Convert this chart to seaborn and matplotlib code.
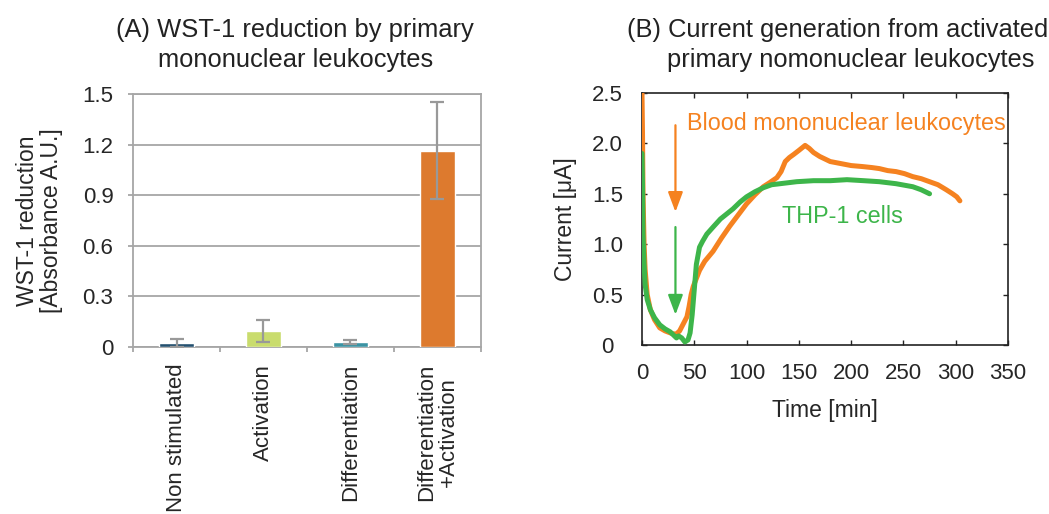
import matplotlib
matplotlib.use("Agg")
import matplotlib.pyplot as plt
import seaborn as sns
import numpy as np
import pandas as pd

sns.set_style("white")
plt.rcParams["font.family"] = ["Liberation Sans", "DejaVu Sans"]

# ---- Panel A data: WST-1 reduction ----
categories = ["Non stimulated", "Activation", "Differentiation", "Differentiation\n+Activation"]
wst_values = [0.024, 0.094, 0.030, 1.163]
wst_errors = [0.022, 0.066, 0.012, 0.287]
bar_colors = ["#24506f", "#c9dc6d", "#3b93a3", "#dd7a2e"]

# ---- Panel B data: current vs time ----
blood_time = [0, 0.5, 1, 2, 3, 5, 8, 12, 17, 22, 27, 30, 33, 36, 39, 41, 43, 45, 47, 49,
              52, 55, 60, 68, 76, 84, 92, 100, 108, 116, 122, 129, 133, 137, 141, 145,
              150, 156, 160, 164, 170, 180, 190, 200, 211, 220, 227, 235, 243, 251, 259,
              267, 275, 283, 291, 297, 301, 304]
blood_current = [2.5, 2.1, 1.5, 1.0, 0.75, 0.5, 0.35, 0.25, 0.17, 0.14, 0.12, 0.11, 0.11,
                 0.14, 0.2, 0.24, 0.28, 0.38, 0.5, 0.58, 0.66, 0.74, 0.83, 0.93, 1.06,
                 1.18, 1.29, 1.40, 1.49, 1.57, 1.61, 1.66, 1.72, 1.82, 1.86, 1.89, 1.93,
                 1.98, 1.95, 1.91, 1.87, 1.82, 1.80, 1.78, 1.77, 1.76, 1.75, 1.73, 1.72,
                 1.70, 1.67, 1.65, 1.62, 1.59, 1.54, 1.50, 1.47, 1.43]
thp_time = [0, 0.5, 1, 2, 3, 5, 8, 12, 17, 22, 27, 30, 33, 35, 38, 41, 44, 46, 48, 50, 52,
            55, 58, 62, 68, 75, 81, 87, 94, 100, 108, 116, 124, 132, 148, 164, 180, 196,
            212, 227, 243, 259, 267, 275]
thp_current = [1.9, 1.6, 1.1, 0.8, 0.6, 0.45, 0.35, 0.27, 0.2, 0.16, 0.13, 0.10, 0.07,
               0.09, 0.07, 0.03, 0.05, 0.12, 0.3, 0.55, 0.8, 0.97, 1.03, 1.1, 1.17, 1.25,
               1.3, 1.35, 1.42, 1.47, 1.52, 1.56, 1.59, 1.60, 1.62, 1.63, 1.63, 1.64,
               1.63, 1.62, 1.60, 1.57, 1.54, 1.50]

ORANGE = "#f58220"
GREEN = "#3db54a"
TICK_FS = 16
LABEL_FS = 16.5
TITLE_FS = 18.4

fig = plt.figure(figsize=(10.49, 5.14), dpi=100)
axA = fig.add_axes([0.1268, 0.3249, 0.3317, 0.4922])
axB = fig.add_axes([0.612, 0.3288, 0.3489, 0.4903])

# ---------------- Panel A ----------------
dfA = pd.DataFrame({"cond": categories, "val": wst_values})
sns.barplot(data=dfA, x="cond", y="val", hue="cond", palette=bar_colors,
            width=0.4, errorbar=None, legend=False, ax=axA, zorder=3, saturation=1)
axA.errorbar(np.arange(len(categories)), wst_values, yerr=wst_errors, fmt="none",
             ecolor="#999999", elinewidth=1.6, capsize=5, capthick=1.6, zorder=4)
axA.set_ylim(0, 1.5)
axA.set_xlim(-0.5, len(categories) - 0.5)
axA.set_yticks(np.arange(0, 1.51, 0.3))
axA.set_yticklabels(["0", "0.3", "0.6", "0.9", "1.2", "1.5"], fontsize=TICK_FS)
axA.yaxis.grid(True, color="#a6a6a6", lw=1.3, zorder=0)
axA.set_axisbelow(True)
for s in axA.spines.values():
    s.set_color("#a6a6a6")
    s.set_linewidth(1.3)
axA.tick_params(axis="y", which="major", direction="out", length=3.6, width=1.3,
                color="#a6a6a6", left=True, pad=10.5)
axA.set_xticks(np.arange(len(categories)))
axA.set_xticklabels(categories, rotation=90, fontsize=TICK_FS, va="top", ha="center",
                    multialignment="center", linespacing=1.0)
axA.tick_params(axis="x", which="major", length=0, pad=12)
axA.set_xticks(np.arange(-0.5, len(categories)), minor=True)
axA.tick_params(axis="x", which="minor", direction="out", length=3.6, width=1.3,
                color="#a6a6a6", bottom=True)
axA.set_xlabel("")
axA.set_ylabel("WST-1 reduction\n[Absorbance A.U.]", fontsize=LABEL_FS,
               linespacing=1.05, va="center")
axA.yaxis.set_label_coords(-0.268, 0.5)

fig.text(0.2812, 0.942, "(A) WST-1 reduction by primary", ha="center", va="center",
         fontsize=TITLE_FS, color="#222222")
fig.text(0.2822, 0.883, "mononuclear leukocytes", ha="center", va="center",
         fontsize=TITLE_FS, color="#222222")

# ---------------- Panel B ----------------
sns.lineplot(x=blood_time, y=blood_current, ax=axB, color=ORANGE, lw=3.6, zorder=3)
sns.lineplot(x=thp_time, y=thp_current, ax=axB, color=GREEN, lw=3.6, zorder=4)
axB.set_xlim(0, 350)
axB.set_ylim(0, 2.5)
axB.set_xticks(np.arange(0, 351, 50))
axB.set_xticklabels([str(v) for v in range(0, 351, 50)], fontsize=TICK_FS)
axB.set_yticks([0, 0.5, 1.0, 1.5, 2.0, 2.5])
axB.set_yticklabels(["0", "0.5", "1.0", "1.5", "2.0", "2.5"], fontsize=TICK_FS,
                    ha="center")
for s in axB.spines.values():
    s.set_color("#222222")
    s.set_linewidth(1.2)
axB.tick_params(direction="in", length=3.6, width=1.0, color="#222222",
                top=True, right=True, bottom=True, left=True)
axB.tick_params(axis="x", pad=13)
axB.tick_params(axis="y", pad=25)
axB.set_xlabel("Time [min]", fontsize=LABEL_FS, va="center")
axB.xaxis.set_label_coords(0.5, -0.258)
axB.set_ylabel("Current [\u03bcA]", fontsize=LABEL_FS, va="center")
axB.yaxis.set_label_coords(-0.21, 0.5)

axB.annotate("", xy=(32, 1.32), xytext=(32, 2.18),
             arrowprops=dict(arrowstyle="-|>,head_length=1.2,head_width=0.45",
                             color=ORANGE, lw=1.6, shrinkA=0, shrinkB=0))
axB.annotate("", xy=(32, 0.30), xytext=(32, 1.17),
             arrowprops=dict(arrowstyle="-|>,head_length=1.2,head_width=0.45",
                             color=GREEN, lw=1.6, shrinkA=0, shrinkB=0))
axB.text(43, 2.2, "Blood mononuclear leukocytes", color=ORANGE, fontsize=16.8,
         ha="left", va="center")
axB.text(133.5, 1.27, "THP-1 cells", color=GREEN, fontsize=16.8,
         ha="left", va="center")

fig.text(0.5977, 0.942, "(B) Current generation from activated", ha="left",
         va="center", fontsize=TITLE_FS, color="#222222")
fig.text(0.6358, 0.883, "primary nomonuclear leukocytes", ha="left", va="center",
         fontsize=TITLE_FS, color="#222222")

fig.savefig("out.png", dpi=100)
